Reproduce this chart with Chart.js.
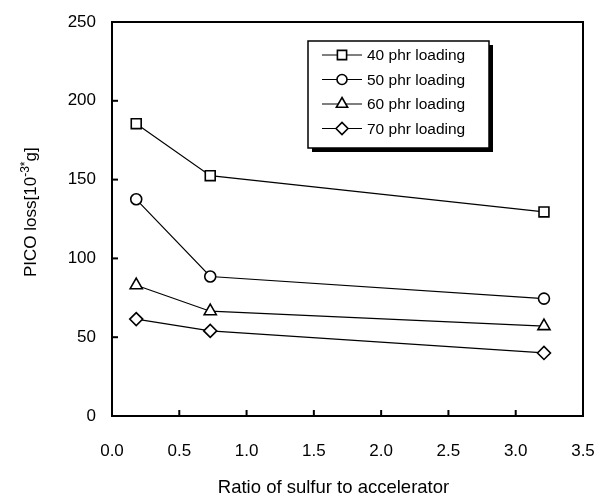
<!DOCTYPE html>
<html>
<head>
<meta charset="utf-8">
<script src="https://cdn.jsdelivr.net/npm/chart.js@4.4.0/dist/chart.umd.min.js"></script>
<style>
  body { margin: 0; background: #fff; }
  #wrap { width: 604px; height: 500px; }
</style>
</head>
<body>
<div id="wrap"><canvas id="myChart" width="604" height="500"></canvas></div>
<script>
// data
const ratio = [0.18, 0.73, 3.21];
const loss40 = [185.5, 152.5, 129.5];
const loss50 = [137.5, 88.5, 74.5];
const loss60 = [83, 66.5, 57];
const loss70 = [61.5, 54, 40];
const seriesNames = ['40 phr loading', '50 phr loading', '60 phr loading', '70 phr loading'];
const xTicks = [0, 0.5, 1.0, 1.5, 2.0, 2.5, 3.0, 3.5];
const yTicks = [0, 50, 100, 150, 200, 250];

const FONT = '"Liberation Sans", Arial, sans-serif';
const markers = [
  { style: 'rect', radius: 7 },
  { style: 'circle', radius: 5.5 },
  { style: 'triangle', radius: 7 },
  { style: 'rectRot', radius: 6.5 }
];

function makeSet(name, values, i) {
  return {
    label: name,
    data: ratio.map((x, k) => ({ x: x, y: values[k] })),
    borderColor: '#000',
    borderWidth: 1.2,
    backgroundColor: '#fff',
    pointStyle: markers[i].style,
    pointRadius: markers[i].radius,
    pointBorderWidth: 1.6,
    pointBorderColor: '#000',
    pointBackgroundColor: '#fff',
    tension: 0,
    fill: false
  };
}

// frame, inward ticks, axis titles and the boxed legend
const decor = {
  id: 'decor',
  afterDraw(chart) {
    const ctx = chart.ctx;
    const a = chart.chartArea;
    const xs = chart.scales.x, ys = chart.scales.y;
    ctx.save();
    ctx.strokeStyle = '#000';
    ctx.lineWidth = 2;
    ctx.strokeRect(a.left, a.top, a.right - a.left, a.bottom - a.top);
    xTicks.forEach(v => {
      const px = xs.getPixelForValue(v);
      ctx.beginPath(); ctx.moveTo(px, a.bottom); ctx.lineTo(px, a.bottom - 6); ctx.stroke();
    });
    yTicks.forEach(v => {
      const py = ys.getPixelForValue(v);
      ctx.beginPath(); ctx.moveTo(a.left, py); ctx.lineTo(a.left + 6, py); ctx.stroke();
    });

    // x title
    ctx.fillStyle = '#000';
    ctx.font = '18.5px ' + FONT;
    ctx.textAlign = 'center';
    ctx.textBaseline = 'alphabetic';
    ctx.fillText('Ratio of sulfur to accelerator', (a.left + a.right) / 2 - 14, 493);

    // y title with superscript
    ctx.save();
    ctx.translate(36, 277);
    ctx.rotate(-Math.PI / 2);
    ctx.textAlign = 'left';
    ctx.font = '17px ' + FONT;
    const t1 = 'PICO loss[10';
    ctx.fillText(t1, 0, 0);
    let w = ctx.measureText(t1).width;
    ctx.font = '12px ' + FONT;
    ctx.fillText('-3*', w, -7);
    w += ctx.measureText('-3*').width;
    ctx.font = '17px ' + FONT;
    ctx.fillText('g]', w, 0);
    ctx.restore();

    // legend box with shadow
    const bx = 308, by = 41, bw = 181, bh = 107;
    ctx.fillStyle = '#000';
    ctx.fillRect(bx + 4, by + 4, bw, bh);
    ctx.fillStyle = '#fff';
    ctx.fillRect(bx, by, bw, bh);
    ctx.lineWidth = 1.5;
    ctx.strokeRect(bx, by, bw, bh);
    chart.data.datasets.forEach((ds, i) => {
      const yy = 55 + i * 24.5;
      ctx.strokeStyle = '#000';
      ctx.lineWidth = 1.2;
      ctx.beginPath(); ctx.moveTo(322, yy); ctx.lineTo(362, yy); ctx.stroke();
      ctx.fillStyle = '#fff';
      ctx.lineWidth = 1.6;
      Chart.helpers.drawPoint(ctx, { pointStyle: ds.pointStyle, radius: ds.pointRadius - 0.5, borderWidth: 1.6 }, 342, yy);
      ctx.fillStyle = '#000';
      ctx.font = '15.5px ' + FONT;
      ctx.textAlign = 'left';
      ctx.textBaseline = 'middle';
      ctx.fillText(ds.label, 367, yy + 1);
    });
    ctx.restore();
  }
};

new Chart('myChart', {
  type: 'line',
  data: {
    datasets: [
      makeSet(seriesNames[0], loss40, 0),
      makeSet(seriesNames[1], loss50, 1),
      makeSet(seriesNames[2], loss60, 2),
      makeSet(seriesNames[3], loss70, 3)
    ]
  },
  options: {
    responsive: false,
    animation: false,
    layout: { padding: { top: 22, right: 21, bottom: 0, left: 0 } },
    plugins: { legend: { display: false }, tooltip: { enabled: false } },
    scales: {
      x: {
        type: 'linear',
        min: 0, max: 3.5,
        afterBuildTicks: s => { s.ticks = xTicks.map(v => ({ value: v })); },
        afterFit: s => { s.height = 84; s.paddingRight = 0; s.paddingLeft = 0; },
        grid: { display: false },
        border: { display: false },
        ticks: {
          color: '#000',
          padding: 17,
          font: { family: FONT, size: 17 },
          callback: v => v.toFixed(1)
        }
      },
      y: {
        min: 0, max: 250,
        afterBuildTicks: s => { s.ticks = yTicks.map(v => ({ value: v })); },
        afterFit: s => { s.width = 112; s.paddingTop = 0; s.paddingBottom = 0; },
        grid: { display: false },
        border: { display: false },
        ticks: {
          color: '#000',
          padding: 8,
          font: { family: FONT, size: 17 }
        }
      }
    }
  },
  plugins: [decor]
});
</script>
</body>
</html>
